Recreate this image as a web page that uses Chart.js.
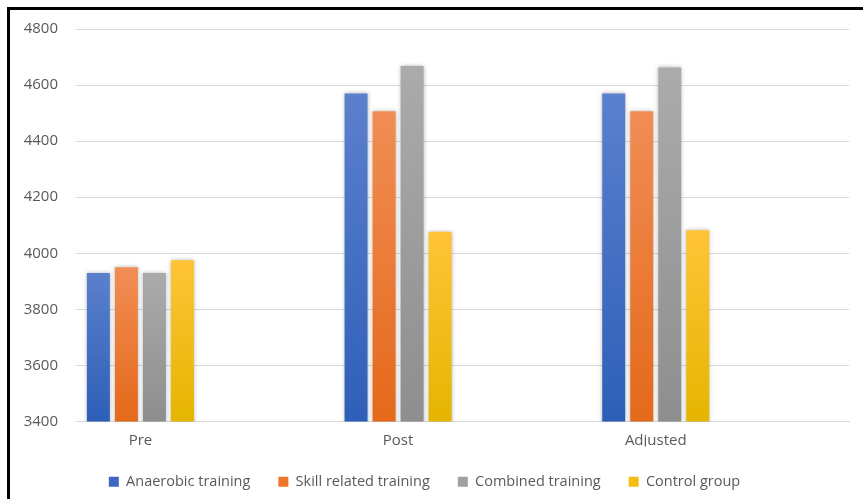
<!DOCTYPE html>
<html>
<head>
<meta charset="utf-8">
<script src="https://cdn.jsdelivr.net/npm/chart.js@4"></script>
<style>
  html, body { margin: 0; padding: 0; background: #fff; }
  #wrap { position: relative; width: 863px; height: 499px; overflow: hidden; }
  #frame { position: absolute; left: 7px; top: 7px; width: 900px; height: 600px; border: 3px solid #000; box-sizing: border-box; pointer-events: none; }
  canvas { position: absolute; left: 0; top: 0; }
</style>
</head>
<body>
<div id="wrap">
  <canvas id="chart" width="863" height="499"></canvas>
  <div id="frame"></div>
</div>
<script>
const categories = ['Pre', 'Post', 'Adjusted'];
const anaerobic = [3930, 4570, 4570];
const skillRelated = [3950, 4507, 4507];
const combined = [3930, 4668, 4663];
const control = [3975, 4077, 4082];
const seriesNames = ['Anaerobic training', 'Skill related training', 'Combined training', 'Control group'];
const yTicks = [3400, 3600, 3800, 4000, 4200, 4400, 4600, 4800];

// top / bottom colours for the bar gradients, plus the legend swatch
const palette = [
  { top: '#5b80cd', bottom: '#2e5fb8', swatch: '#3d67c2' },
  { top: '#f18d55', bottom: '#e4691a', swatch: '#ec772b' },
  { top: '#ababab', bottom: '#8e8e8e', swatch: '#a0a0a0' },
  { top: '#ffc437', bottom: '#e5b500', swatch: '#f7bd12' }
];

function gradientFor(i) {
  return (ctx) => {
    const chart = ctx.chart;
    const area = chart.chartArea;
    if (!area || !ctx.raw) return palette[i].swatch;
    const yTop = chart.scales.y.getPixelForValue(ctx.raw.y);
    const g = chart.ctx.createLinearGradient(0, yTop, 0, area.bottom);
    g.addColorStop(0, palette[i].top);
    g.addColorStop(1, palette[i].bottom);
    return g;
  };
}

const allSeries = [anaerobic, skillRelated, combined, control];

const barShadow = {
  id: 'barShadow',
  beforeDatasetsDraw(chart) {
    const c = chart.ctx;
    c.save();
    c.shadowColor = 'rgba(0,0,0,0.28)';
    c.shadowBlur = 4;
  },
  afterDatasetsDraw(chart) {
    chart.ctx.restore();
  }
};

Chart.defaults.font.family = '"Open Sans", sans-serif';
Chart.defaults.color = '#595959';

new Chart(document.getElementById('chart'), {
  type: 'bar',
  data: {
    datasets: allSeries.map((vals, i) => ({
      label: seriesNames[i],
      data: vals.map((v, k) => ({ x: k, y: v })),
      backgroundColor: gradientFor(i),
      borderWidth: 0,
      categoryPercentage: 0.435,
      barPercentage: 0.82
    }))
  },
  plugins: [barShadow],
  options: {
    responsive: false,
    animation: false,
    layout: { padding: { top: 29, right: 14, left: 0, bottom: 0 } },
    scales: {
      x: {
        type: 'linear',
        offset: false,
        min: -0.25,
        max: 2.75,
        afterBuildTicks: (s) => { s.ticks = categories.map((c, k) => ({ value: k })); },
        afterFit: (s) => { s.height = 25; },
        grid: { display: false, drawTicks: false, offset: false },
        border: { display: true, color: '#d9d9d9', width: 1 },
        ticks: { font: { size: 15 }, padding: 10, callback: (v) => categories[v] }
      },
      y: {
        min: 3400,
        max: 4800,
        afterBuildTicks: (s) => { s.ticks = yTicks.map(v => ({ value: v })); },
        afterFit: (s) => { s.width = 76; },
        grid: { color: '#d9d9d9', lineWidth: 1, drawTicks: false },
        border: { display: false },
        ticks: { font: { size: 15 }, padding: 18, callback: (v) => String(v) }
      }
    },
    plugins: {
      legend: {
        position: 'bottom',
        labels: {
          boxWidth: 10,
          boxHeight: 10,
          padding: 28,
          font: { size: 14.5 },
          generateLabels: (chart) => chart.data.datasets.map((ds, i) => ({
            text: ds.label,
            fillStyle: palette[i].swatch,
            strokeStyle: palette[i].swatch,
            lineWidth: 0,
            datasetIndex: i,
            fontColor: '#595959'
          }))
        }
      },
      tooltip: { enabled: false }
    }
  }
});
</script>
</body>
</html>
